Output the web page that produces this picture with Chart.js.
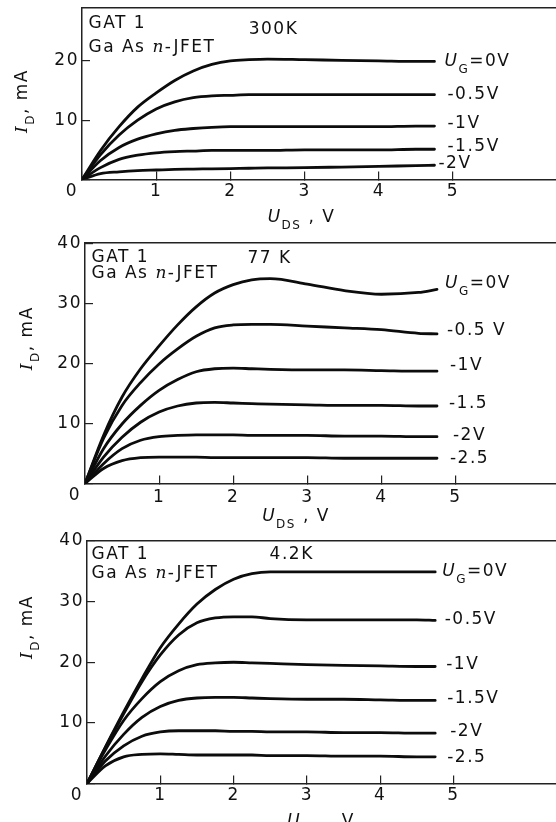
<!DOCTYPE html>
<html>
<head>
<meta charset="utf-8">
<title>GaAs n-JFET output characteristics</title>
<script src="https://cdn.jsdelivr.net/npm/chart.js@4/dist/chart.umd.min.js"></script>
<style>
  html, body { margin: 0; padding: 0; background: #fff; }
  #wrap { position: relative; width: 556px; height: 822px; overflow: hidden; background: #fff; }
  #wrap canvas { position: absolute; left: 0; }
</style>
</head>
<body>
<div id="wrap">
  <canvas id="c300"></canvas>
  <canvas id="c77"></canvas>
  <canvas id="c42"></canvas>
</div>
<script>
// Drain-source voltage samples (V) shared by every curve
const uds = [0, 0.25, 0.5, 0.75, 1, 1.25, 1.5, 1.75, 2, 2.25, 2.5, 3, 3.5, 4, 4.5, 4.75];

// Axis ticks
const xTicks = [0, 1, 2, 3, 4, 5];
const yTicks300 = [0, 10, 20];
const yTicks77 = [0, 10, 20, 30, 40];
const yTicks42 = [0, 10, 20, 30, 40];

// 300 K drain current, mA
const id300_0V  = [0, 4.9, 8.9, 12.2, 14.6, 16.7, 18.3, 19.4, 20.0, 20.2, 20.3, 20.2, 20.1, 20.0, 19.9, 19.9];
const id300_m05 = [0, 4.2, 7.5, 10.0, 11.9, 13.1, 13.8, 14.1, 14.2, 14.3, 14.3, 14.3, 14.3, 14.3, 14.3, 14.3];
const id300_m1  = [0, 3.2, 5.4, 6.8, 7.7, 8.3, 8.6, 8.8, 8.9, 8.9, 8.9, 8.9, 8.9, 8.9, 9.0, 9.0];
const id300_m15 = [0, 2.0, 3.4, 4.1, 4.5, 4.7, 4.8, 4.9, 4.9, 4.9, 4.9, 5.0, 5.0, 5.0, 5.1, 5.1];
const id300_m2  = [0, 1.0, 1.3, 1.5, 1.6, 1.7, 1.75, 1.8, 1.85, 1.9, 1.95, 2.0, 2.1, 2.2, 2.35, 2.4];
const gate300 = ['U_G=0V', '-0.5V', '-1V', '-1.5V', '-2V'];

// 77 K drain current, mA
const id77_0V  = [0, 8.0, 14.4, 19.1, 22.9, 26.4, 29.4, 31.7, 33.1, 33.9, 34.1, 33.2, 32.1, 31.5, 31.8, 32.3];
const id77_m05 = [0, 7.5, 13.0, 16.8, 19.9, 22.4, 24.5, 25.9, 26.4, 26.5, 26.5, 26.2, 25.9, 25.6, 25.0, 24.9];
const id77_m1  = [0, 5.8, 9.9, 13.0, 15.5, 17.3, 18.6, 19.1, 19.2, 19.1, 19.0, 18.9, 18.9, 18.8, 18.7, 18.7];
const id77_m15 = [0, 4.4, 7.7, 10.2, 11.9, 12.9, 13.4, 13.5, 13.4, 13.3, 13.2, 13.1, 13.0, 13.0, 12.9, 12.9];
const id77_m2  = [0, 3.3, 5.8, 7.2, 7.8, 8.0, 8.1, 8.1, 8.1, 8.0, 8.0, 8.0, 7.9, 7.9, 7.8, 7.8];
const id77_m25 = [0, 2.5, 3.8, 4.3, 4.4, 4.4, 4.4, 4.3, 4.3, 4.3, 4.3, 4.3, 4.2, 4.2, 4.2, 4.2];
const gate77 = ['U_G=0V', '-0.5 V', '-1V', '-1.5', '-2V', '-2.5'];

// 4.2 K drain current, mA
const id42_0V  = [0, 6.0, 11.8, 17.3, 22.4, 26.3, 29.6, 32.0, 33.7, 34.6, 34.9, 34.9, 34.9, 34.9, 34.9, 34.9];
const id42_m05 = [0, 5.9, 11.5, 16.8, 21.2, 24.5, 26.5, 27.3, 27.5, 27.5, 27.2, 27.0, 27.0, 27.0, 27.0, 26.9];
const id42_m1  = [0, 5.5, 10.4, 14.0, 16.8, 18.6, 19.6, 19.9, 20.0, 19.9, 19.8, 19.6, 19.5, 19.4, 19.3, 19.3];
const id42_m15 = [0, 4.5, 8.1, 10.9, 12.7, 13.7, 14.1, 14.2, 14.2, 14.1, 14.0, 13.9, 13.9, 13.8, 13.7, 13.7];
const id42_m2  = [0, 3.7, 6.2, 7.8, 8.5, 8.7, 8.7, 8.7, 8.6, 8.6, 8.5, 8.5, 8.4, 8.4, 8.3, 8.3];
const id42_m25 = [0, 2.9, 4.4, 4.8, 4.9, 4.8, 4.7, 4.7, 4.7, 4.7, 4.6, 4.6, 4.5, 4.5, 4.4, 4.4];
const gate42 = ['U_G=0V', '-0.5V', '-1V', '-1.5V', '-2V', '-2.5'];

const INK = '#111';
const SANS = '"DejaVu Sans", sans-serif';
const F_MAIN = `17px ${SANS}`;
const F_SUB = `12px ${SANS}`;
const F_ITAL = `italic 17px ${SANS}`;
const F_SERIF_IT = 'italic 17px "DejaVu Serif", serif';

// Draws a run of text pieces with their own fonts and baseline shifts
function drawRun(ctx, parts, x, y, align) {
  let total = 0;
  for (const p of parts) { ctx.font = p.f; p.w = ctx.measureText(p.t).width; total += p.w; }
  let cx = align === 'center' ? x - total / 2 : (align === 'right' ? x - total : x);
  ctx.textAlign = 'left';
  ctx.textBaseline = 'middle';
  for (const p of parts) {
    ctx.font = p.f;
    ctx.fillText(p.t, cx, y + (p.dy || 0));
    cx += p.w;
  }
}

// "U_G=0V" -> italic U, subscript G, rest plain
function gateParts(str) {
  const m = str.match(/^U_([A-Z]+)(.*)$/);
  if (m) return [{ t: 'U', f: F_ITAL }, { t: m[1], f: F_SUB, dy: 8 }, { t: m[2], f: F_MAIN }];
  return [{ t: str, f: F_MAIN }];
}

const panels = [
  {
    canvas: 'c300', top: 0, height: 233,
    left: 82, areaTop: 7.5, areaBottom: 179.5, xMax: 6.388, yMax: 29,
    yTicks: yTicks300, xPad: 10, series: [id300_0V, id300_m05, id300_m1, id300_m15, id300_m2], gates: gate300,
    labelDx: [10, 13, 13, 13, 4], labelDy: [0, 0, -3, -3, -2],
    temp: '300K', tempX: 273.5, tempDy: 22.5, gatDx: 6.5, gatDy: 16.5, gaasDy: 40,
    yTitleDx: -59, yTitleDy: 93.5, xTitleX: 301.5, xTitleDy: 38
  },
  {
    canvas: 'c77', top: 233, height: 297,
    left: 85, areaTop: 10.2, areaBottom: 250.5, xMax: 6.356, yMax: 40,
    yTicks: yTicks77, xPad: 12, series: [id77_0V, id77_m05, id77_m1, id77_m15, id77_m2, id77_m25], gates: gate77,
    labelDx: [8, 10, 13, 12, 16, 13], labelDy: [-6, -3, -6, -2, -1, 0],
    temp: '77 K', tempX: 269.5, tempDy: 15.5, gatDx: 6.5, gatDy: 14, gaasDy: 30.5,
    yTitleDx: -57.5, yTitleDy: 95, xTitleX: 296, xTitleDy: 33
  },
  {
    canvas: 'c42', top: 530, height: 292,
    left: 87, areaTop: 11, areaBottom: 253.5, xMax: 6.398, yMax: 40,
    yTicks: yTicks42, xPad: 9.5, series: [id42_0V, id42_m05, id42_m1, id42_m15, id42_m2, id42_m25], gates: gate42,
    labelDx: [7, 9.5, 11, 12, 15, 12], labelDy: [0, -1, -2, -2, -2, 1],
    temp: '4.2K', tempX: 291.7, tempDy: 14, gatDx: 4.5, gatDy: 13.5, gaasDy: 32.5,
    yTitleDx: -59.5, yTitleDy: 86, xTitleX: 321, xTitleDy: 38
  }
];

function makeChart(p) {
  const cv = document.getElementById(p.canvas);
  cv.style.top = p.top + 'px';
  cv.width = 556;
  cv.height = p.height;
  cv.style.width = '556px';
  cv.style.height = p.height + 'px';

  const datasets = p.series.map((ser, i) => ({
    label: p.gates[i],
    data: uds.map((v, k) => ({ x: v, y: ser[k] })),
    borderColor: '#0c0c0c',
    borderWidth: 2.8,
    pointRadius: 0,
    fill: false,
    cubicInterpolationMode: 'monotone',
    borderCapStyle: 'round',
    borderJoinStyle: 'round'
  }));

  const tickFont = { family: 'DejaVu Sans', size: 17 };

  const spacing = {
    id: 'spacing',
    beforeDraw(chart) { chart.ctx.letterSpacing = '1.5px'; }
  };

  const notes = {
    id: 'notes',
    afterDraw(chart) {
      const { ctx, chartArea: a, scales: { x } } = chart;
      ctx.save();
      ctx.fillStyle = INK;
      ctx.letterSpacing = '1.5px';

      // shared origin label
      ctx.font = F_MAIN;
      ctx.textAlign = 'center';
      ctx.textBaseline = 'middle';
      ctx.fillText('0', x.getPixelForValue(0) - 10, a.bottom + 12.5);

      // device caption and temperature
      drawRun(ctx, [{ t: 'GAT 1', f: F_MAIN }], a.left + p.gatDx, a.top + p.gatDy, 'left');
      drawRun(ctx, [{ t: 'Ga As ', f: F_MAIN }, { t: 'n', f: F_SERIF_IT }, { t: '-JFET', f: F_MAIN }],
        a.left + p.gatDx, a.top + p.gaasDy, 'left');
      drawRun(ctx, [{ t: p.temp, f: F_MAIN }], p.tempX, a.top + p.tempDy, 'center');

      // axis titles
      drawRun(ctx, [{ t: 'U', f: F_ITAL }, { t: 'DS', f: F_SUB, dy: 8 }, { t: ' , V', f: F_MAIN }],
        p.xTitleX, a.bottom + p.xTitleDy, 'center');
      ctx.save();
      ctx.translate(a.left + p.yTitleDx, a.top + p.yTitleDy);
      ctx.rotate(-Math.PI / 2);
      drawRun(ctx, [{ t: 'I', f: F_SERIF_IT }, { t: 'D', f: F_SUB, dy: 8 }, { t: ', mA', f: F_MAIN }], 0, 0, 'center');
      ctx.restore();

      // gate-voltage labels at the end of each curve
      chart.data.datasets.forEach((ds, i) => {
        const pts = chart.getDatasetMeta(i).data;
        const end = pts[pts.length - 1];
        drawRun(ctx, gateParts(ds.label), end.x + p.labelDx[i], end.y + p.labelDy[i], 'left');
      });
      ctx.restore();
    }
  };

  return new Chart(cv, {
    type: 'line',
    data: { datasets },
    options: {
      responsive: false,
      animation: false,
      devicePixelRatio: 1,
      layout: { autoPadding: false, padding: { left: 0, right: 0, top: p.areaTop, bottom: 0 } },
      plugins: { legend: { display: false }, tooltip: { enabled: false } },
      scales: {
        x: {
          type: 'linear', position: 'bottom', min: 0, max: p.xMax,
          afterBuildTicks: s => { s.ticks = xTicks.map(v => ({ value: v })); },
          afterFit: s => { s.height = p.height - p.areaBottom; s.paddingLeft = 0; s.paddingRight = 0; },
          grid: { drawOnChartArea: false, drawTicks: true, tickLength: -8, color: '#222', lineWidth: 1.2 },
          border: { display: true, color: '#222', width: 1.5 },
          ticks: {
            font: tickFont, color: INK, padding: p.xPad, maxRotation: 0, autoSkip: false,
            callback: v => (v === 0 ? '' : String(v))
          }
        },
        xTop: {
          type: 'linear', position: 'top', min: 0, max: p.xMax, display: true,
          afterFit: s => { s.height = 0; s.paddingLeft = 0; s.paddingRight = 0; },
          grid: { display: false, drawTicks: false },
          border: { display: true, color: '#222', width: 1.5 },
          ticks: { display: false }
        },
        y: {
          type: 'linear', position: 'left', min: 0, max: p.yMax,
          afterBuildTicks: s => { s.ticks = p.yTicks.map(v => ({ value: v })); },
          afterFit: s => { s.width = p.left; s.paddingTop = 0; s.paddingBottom = 0; },
          grid: { drawOnChartArea: false, drawTicks: true, tickLength: -8, color: '#222', lineWidth: 1.2 },
          border: { display: true, color: '#222', width: 1.5 },
          ticks: {
            font: tickFont, color: INK, padding: 11,
            callback: v => (v === 0 ? '' : String(v))
          }
        }
      }
    },
    plugins: [spacing, notes]
  });
}

panels.forEach(makeChart);
</script>
</body>
</html>
